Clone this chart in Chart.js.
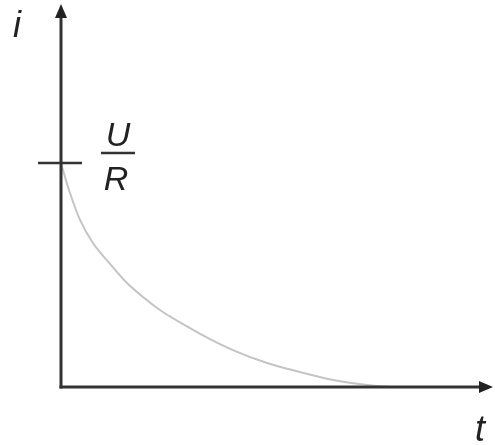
<!DOCTYPE html>
<html>
<head>
<meta charset="utf-8">
<script src="https://cdn.jsdelivr.net/npm/chart.js@4"></script>
<style>
    html, body { margin: 0; padding: 0; background: #fff; }
    #wrap { width: 495px; height: 445px; }
</style>
</head>
<body>
<div id="wrap"><canvas id="chart" width="495" height="445"></canvas></div>
<script>
// Discharge current curve, i in units of U/R, t in arbitrary units
const timeValues = [0, 0.093, 0.208, 0.44, 0.74, 1.134, 1.528, 1.898, 2.29, 2.986, 3.45, 3.98, 4.77, 5.53, 6.30, 7.08, 7.62];
const currentValues = [1, 0.9375, 0.866, 0.746, 0.643, 0.550, 0.464, 0.402, 0.344, 0.263, 0.214, 0.165, 0.107, 0.067, 0.031, 0.009, 0];
const tickValue = 1; // U/R
const xLabel = 't';
const yLabel = 'i';
const tickLabelTop = 'U';
const tickLabelBottom = 'R';

const points = timeValues.map((t, idx) => ({ x: t, y: currentValues[idx] }));

// Draws the arrowed axes, the U/R mark and the axis letters
const axesPlugin = {
    id: 'axesPlugin',
    afterDraw(chart) {
        const ctx = chart.ctx;
        const xs = chart.scales.x;
        const ys = chart.scales.y;
        const x0 = xs.getPixelForValue(0);
        const y0 = ys.getPixelForValue(0);
        const xEnd = xs.getPixelForValue(xs.max);
        const yEnd = ys.getPixelForValue(ys.max);

        ctx.save();
        ctx.strokeStyle = '#333';
        ctx.fillStyle = '#222';
        ctx.lineWidth = 3;
        ctx.lineCap = 'butt';

        // y axis
        ctx.beginPath();
        ctx.moveTo(x0, y0 + 1.5);
        ctx.lineTo(x0, yEnd + 10);
        ctx.stroke();
        // x axis
        ctx.beginPath();
        ctx.moveTo(x0 - 1.5, y0);
        ctx.lineTo(xEnd - 10, y0);
        ctx.stroke();

        // arrow heads
        ctx.beginPath();
        ctx.moveTo(x0, yEnd);
        ctx.lineTo(x0 - 6, yEnd + 14);
        ctx.lineTo(x0 + 6, yEnd + 14);
        ctx.closePath();
        ctx.fill();
        ctx.beginPath();
        ctx.moveTo(xEnd, y0);
        ctx.lineTo(xEnd - 14, y0 - 6);
        ctx.lineTo(xEnd - 14, y0 + 6);
        ctx.closePath();
        ctx.fill();

        // U/R tick
        const ty = ys.getPixelForValue(tickValue);
        ctx.lineWidth = 2.5;
        ctx.beginPath();
        ctx.moveTo(x0 - 23, ty);
        ctx.lineTo(x0 + 21, ty);
        ctx.stroke();

        // fraction U / R
        ctx.font = 'italic 34px "Liberation Sans", Arial, sans-serif';
        ctx.textAlign = 'center';
        ctx.textBaseline = 'alphabetic';
        const fx = x0 + 57;
        ctx.fillText(tickLabelTop, fx, ty - 17);
        ctx.lineWidth = 2.5;
        ctx.beginPath();
        ctx.moveTo(fx - 17, ty - 10);
        ctx.lineTo(fx + 17, ty - 10);
        ctx.stroke();
        ctx.fillText(tickLabelBottom, fx - 2, ty + 27);

        // axis letters
        ctx.font = 'italic 36px "Liberation Sans", Arial, sans-serif';
        ctx.fillText(yLabel, 17, 37);
        ctx.fillText(xLabel, 480, 441);
        ctx.restore();
    }
};

new Chart(document.getElementById('chart'), {
    type: 'line',
    data: {
        datasets: [{
            data: points,
            borderColor: '#c4c4c4',
            borderWidth: 2,
            pointRadius: 0,
            fill: false,
            cubicInterpolationMode: 'monotone'
        }]
    },
    options: {
        responsive: false,
        animation: false,
        layout: {
            padding: { left: 61, right: 2, top: 4, bottom: 58 }
        },
        plugins: {
            legend: { display: false },
            tooltip: { enabled: false }
        },
        scales: {
            x: { type: 'linear', min: 0, max: 10, display: false },
            y: { type: 'linear', min: 0, max: 1.71, display: false }
        }
    },
    plugins: [axesPlugin]
});
</script>
</body>
</html>
